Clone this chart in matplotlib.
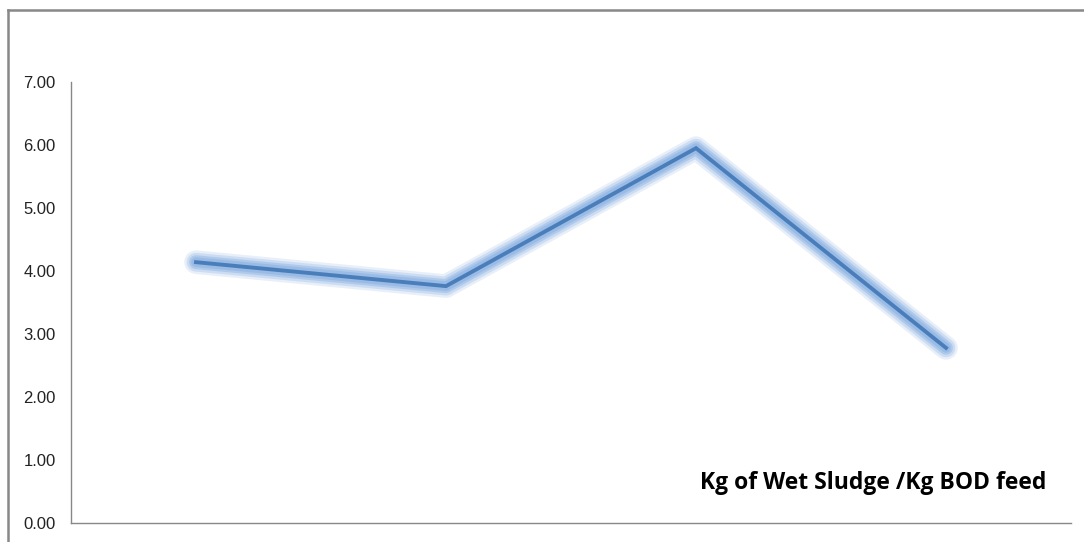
import numpy as np
import matplotlib.pyplot as plt
from matplotlib.lines import Line2D

# data
categories = ['1', '2', '3', '4']
values = [4.14, 3.76, 5.95, 2.78]
yticks = [0, 1, 2, 3, 4, 5, 6, 7]
label = 'Kg of Wet Sludge /Kg BOD feed'

fig = plt.figure(figsize=(10.84, 5.42), dpi=100)
ax = fig.add_axes([71/1084, 1 - 523/542, 1000/1084, 441/542])

x = np.arange(len(categories))

# soft glow under the line
for w, a in [(17, 0.2), (13.5, 0.3), (10, 0.45), (7, 0.6)]:
    ax.plot(x, values, color='#8db3e2', lw=w, alpha=a,
            solid_capstyle='round', solid_joinstyle='round')
ax.plot(x, values, color='#4a7ebb', lw=2.8, solid_joinstyle='miter')

ax.set_xlim(-0.5, 3.5)
ax.set_ylim(0, 7)
ax.set_yticks(yticks)
ax.set_yticklabels(['%.2f' % t for t in yticks], fontsize=12,
                   family='Liberation Sans', color='#222222')
ax.set_xticks([])
ax.tick_params(axis='y', length=0, pad=11)

for s in ['top', 'right']:
    ax.spines[s].set_visible(False)
for s in ['left', 'bottom']:
    ax.spines[s].set_color('#888888')
    ax.spines[s].set_linewidth(1)

ax.text(0.975, 0.09, label, transform=ax.transAxes, ha='right', va='center',
        fontsize=16.5, fontweight='bold', family='Open Sans', color='black')

# outer chart frame
fig.add_artist(Line2D([8/1084, 8/1084], [0, 1 - 10/542], color='#888888', lw=1.8))
fig.add_artist(Line2D([8/1084, 1], [1 - 10/542, 1 - 10/542], color='#888888', lw=1.8))

fig.savefig('out.png', dpi=100)
